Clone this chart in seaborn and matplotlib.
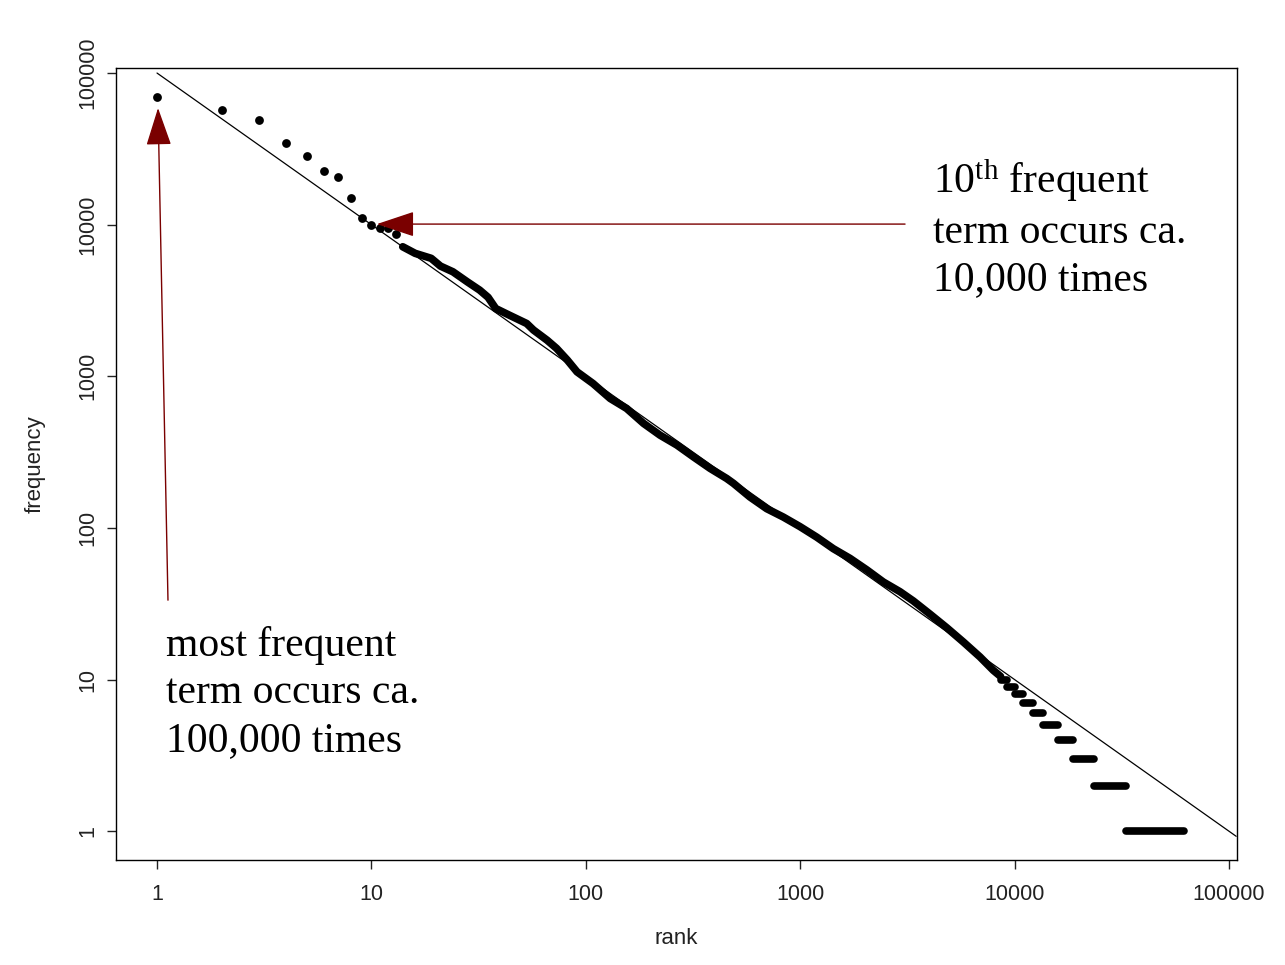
import matplotlib
matplotlib.use("Agg")
import matplotlib.pyplot as plt
import numpy as np
import pandas as pd
import seaborn as sns

# head of the rank/frequency list, one dot per term
top_rank = [1, 2, 3, 4, 5, 6, 7, 8, 9, 10, 11, 12, 13]
top_freq = [69200, 57300, 48800, 34500, 28500, 22700, 20600, 14900, 11000, 9980, 9450, 9540, 8710]

# dense middle part (dots merge into a band)
mid_rank = [14, 16, 19, 21, 24, 28, 32, 35, 38, 44, 53, 57, 66, 73, 82, 91, 108, 130,
            155, 186, 222, 266, 318, 380, 454, 488, 583, 698, 834, 998, 1194, 1427,
            1707, 2042, 2443, 2919, 3370, 4033, 4821, 5767, 6898, 7960, 8600]
mid_freq = [7150, 6470, 6000, 5330, 4890, 4200, 3700, 3320, 2800, 2530, 2230, 2020,
            1730, 1530, 1280, 1070, 897, 714, 614, 489, 409, 352, 294, 247, 212, 197,
            160, 134, 118, 102, 87, 73, 63, 53, 44, 38, 33, 27, 22, 17.7, 14.1, 11.5, 10.5]

# tail: integer frequencies shared by runs of ranks
tail_freq = [10, 9, 8, 7, 6, 5, 4, 3, 2, 1]
tail_start = [8600, 9200, 10000, 11000, 12200, 13600, 15900, 18700, 23500, 33000]
tail_end = [9200, 10000, 11000, 12200, 13600, 15900, 18700, 23500, 33000, 62000]

# Zipf reference line  freq = 100000 / rank
ref_rank = [1, 108000]
ref_freq = [100000, 0.926]

tick_vals = [1, 10, 100, 1000, 10000, 100000]
tick_labels = ["1", "10", "100", "1000", "10000", "100000"]

sns.set_theme(style="ticks")
plt.rcParams["font.family"] = ["Liberation Sans", "DejaVu Sans"]
plt.rcParams["mathtext.fontset"] = "custom"
plt.rcParams["mathtext.rm"] = "Liberation Serif"
plt.rcParams["mathtext.it"] = "Liberation Serif:italic"

fig = plt.figure(figsize=(12.85, 9.65), dpi=100)
fig.patch.set_facecolor("white")
ax = fig.add_axes([0.0903, 0.1088, 0.8723, 0.8207])
ax.set_facecolor("white")

ax.set_xscale("log")
ax.set_yscale("log")

sns.lineplot(x=ref_rank, y=ref_freq, ax=ax, color="black", lw=0.9)

sns.scatterplot(x=top_rank, y=top_freq, ax=ax, color="black", s=40, linewidth=0)
sns.lineplot(x=mid_rank, y=mid_freq, ax=ax, sort=False, estimator=None, color="black",
             lw=5.5, solid_capstyle="round", solid_joinstyle="round")

tail = pd.DataFrame({
    "rank": tail_start + tail_end,
    "freq": tail_freq + tail_freq,
})
sns.lineplot(data=tail, x="rank", y="freq", units="freq", estimator=None, ax=ax,
             color="black", lw=5.5, solid_capstyle="round")

ax.set_xlim(0.644, 108900)
ax.set_ylim(0.646, 107900)
ax.minorticks_off()
ax.set_xticks(tick_vals)
ax.set_xticklabels(tick_labels)
ax.set_yticks(tick_vals)
ax.set_yticklabels(tick_labels, rotation=90, va="center")
ax.tick_params(axis="both", direction="out", length=6.5, width=1, labelsize=15.5,
               colors="#222222")
ax.tick_params(axis="x", pad=11)
ax.tick_params(axis="y", pad=6)
for s in ax.spines.values():
    s.set_visible(True)
    s.set_color("black")
    s.set_linewidth(1)

ax.set_xlabel("rank", fontsize=16, color="#222222")
ax.set_ylabel("frequency", fontsize=16, color="#222222")
ax.xaxis.set_label_coords(0.5, -0.086)
ax.yaxis.set_label_coords(-0.0624, 0.5)

arrow = dict(arrowstyle="-|>,head_length=2.4,head_width=0.8", mutation_scale=10,
             color="#7a0000", lw=1.0, shrinkA=0, shrinkB=0)
ax.annotate("", xy=(1.011, 58800), xytext=(1.125, 33.4), arrowprops=arrow)
ax.annotate("", xy=(10.6, 10090), xytext=(3083, 10090), arrowprops=arrow)

fig.text(0.1292, 0.2819, "most frequent\nterm occurs ca.\n100,000 times",
         family="Liberation Serif", fontsize=30, ha="left", va="center",
         linespacing=1.3, color="black")
fig.text(0.7261, 0.7637, "10$^{\\rm th}$ frequent\nterm occurs ca.\n10,000 times",
         family="Liberation Serif", fontsize=30, ha="left", va="center",
         linespacing=1.3, color="black")

fig.savefig("out.png", dpi=100)
